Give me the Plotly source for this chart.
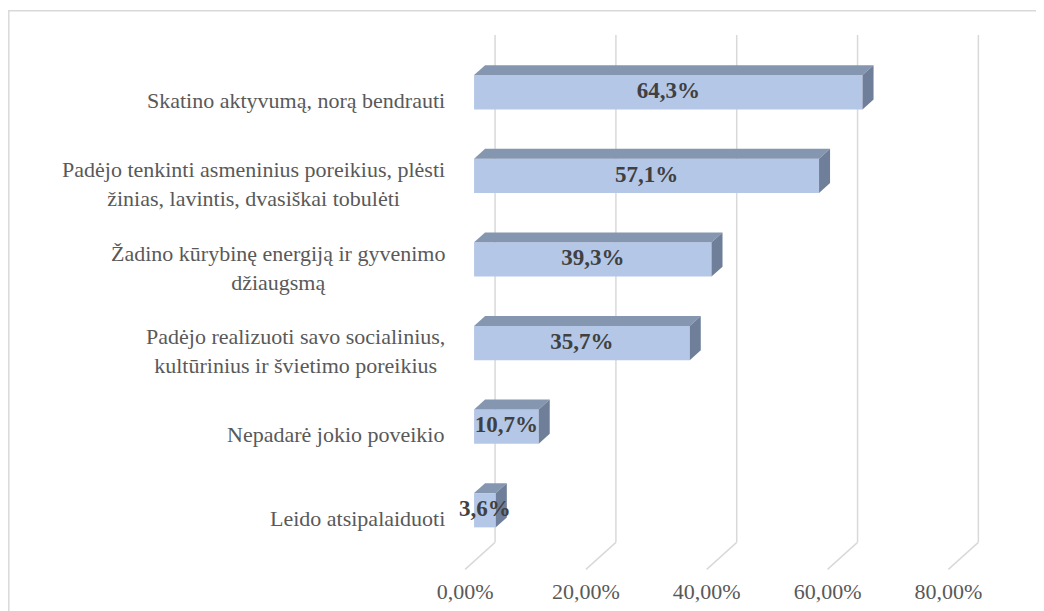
import plotly.graph_objects as go

# data (bottom to top, as drawn)
categories = [
    "Leido atsipalaiduoti",
    "Nepadarė jokio poveikio",
    "Padėjo realizuoti savo socialinius,<br>kultūrinius ir švietimo poreikius",
    "Žadino kūrybinę energiją ir gyvenimo<br>džiaugsmą",
    "Padėjo tenkinti asmeninius poreikius, plėsti<br>žinias, lavintis, dvasiškai tobulėti",
    "Skatino aktyvumą, norą bendrauti",
]
values = [3.6, 10.7, 35.7, 39.3, 57.1, 64.3]
tick_vals = [0, 20, 40, 60, 80]
tick_text = ["0,00%", "20,00%", "40,00%", "60,00%", "80,00%"]

SERIF = "Liberation Serif"

# fake 3d: offset of the full depth (floor front -> back wall) in data units
DX, DY = 4.966, 0.323
D_FRONT, D_DEPTH = 0.30, 0.367   # bar front plane and bar thickness (fraction of depth)
HALF = 0.205                      # half bar height
FLOOR, WALL_TOP = -0.61, 5.459

bx0 = D_FRONT * DX
ddx, ddy = D_DEPTH * DX, D_DEPTH * DY
ys = [i + D_FRONT * DY for i in range(len(values))]

fig = go.Figure()

# front faces
fig.add_trace(go.Bar(
    x=values, y=ys, base=bx0, orientation="h", width=2 * HALF,
    marker=dict(color="#b4c7e7", line=dict(width=0)),
    hoverinfo="skip",
))

# top and side faces
for v, yc in zip(values, ys):
    yt, yb = yc + HALF, yc - HALF
    fig.add_trace(go.Scatter(
        x=[bx0, bx0 + v, bx0 + v + ddx, bx0 + ddx, bx0],
        y=[yt, yt, yt + ddy, yt + ddy, yt],
        fill="toself", fillcolor="#8596b0", line=dict(width=0),
        mode="lines", hoverinfo="skip",
    ))
    fig.add_trace(go.Scatter(
        x=[bx0 + v, bx0 + v, bx0 + v + ddx, bx0 + v + ddx, bx0 + v],
        y=[yb, yt, yt + ddy, yb + ddy, yb],
        fill="toself", fillcolor="#6f7f99", line=dict(width=0),
        mode="lines", hoverinfo="skip",
    ))

# value labels
fig.add_trace(go.Scatter(
    x=[bx0 + v / 2 for v in values], y=ys, mode="text",
    text=[f"{v:.1f}".replace(".", ",") + "%" for v in values],
    textfont=dict(family=SERIF, size=23, color="#404040", weight="bold"),
    textposition="middle center", cliponaxis=False, hoverinfo="skip",
))

# gridlines: floor diagonal + back wall vertical
shapes = []
for t in tick_vals:
    shapes.append(dict(type="line", xref="x", yref="y", layer="below",
                       x0=t, y0=FLOOR, x1=t + DX, y1=FLOOR + DY,
                       line=dict(color="#d9d9d9", width=1.5)))
    shapes.append(dict(type="line", xref="x", yref="y", layer="below",
                       x0=t + DX, y0=FLOOR + DY, x1=t + DX, y1=WALL_TOP + DY,
                       line=dict(color="#d9d9d9", width=1.5)))
# chart frame
shapes.append(dict(type="rect", xref="paper", yref="paper",
                   x0=-0.758, x1=1.05, y0=-0.2, y1=1.0095,
                   line=dict(color="#d9d9d9", width=1.5), layer="below"))

# category labels
annotations = []
for i, c in enumerate(categories):
    annotations.append(dict(
        x=0, xref="paper", y=i, yref="y", text=c, showarrow=False,
        xanchor="right", yanchor="middle", align="center", xshift=-6,
        font=dict(family=SERIF, size=22, color="#595959"),
    ))

# page body adds 8px around the figure
fig.update_layout(
    width=1036, height=603,
    margin=dict(l=445, r=5, t=8, b=40),
    paper_bgcolor="white", plot_bgcolor="white",
    showlegend=False,
    shapes=shapes, annotations=annotations,
    xaxis=dict(range=[-2, 95], tickvals=tick_vals, ticktext=tick_text,
               showgrid=False, zeroline=False, showline=False, ticks="",
               ticklabelstandoff=5,
               tickfont=dict(family=SERIF, size=22, color="#595959")),
    yaxis=dict(range=[-0.63, 6.009], showgrid=False, zeroline=False,
               showline=False, showticklabels=False),
)

fig.write_html("out.html")
